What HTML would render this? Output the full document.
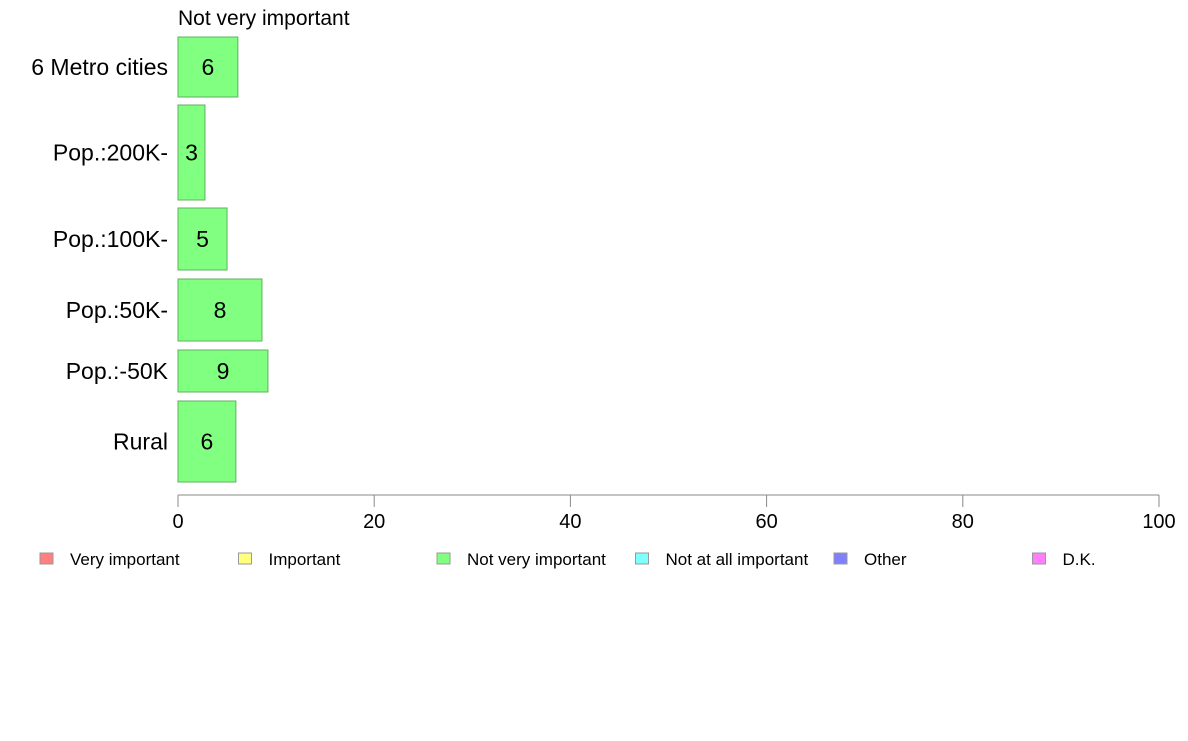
<!DOCTYPE html>
<html><head><meta charset="utf-8"><style>
body{margin:0;background:#fff;font-family:"Liberation Sans",sans-serif}
</style></head><body>
<svg width="1188" height="736" id="c" font-family="Liberation Sans, sans-serif"></svg>
<script>
const categories=["6 Metro cities","Pop.:200K-","Pop.:100K-","Pop.:50K-","Pop.:-50K","Rural"];
const values=[6.1,2.75,5.0,8.56,9.17,5.9];
const labels=["6","3","5","8","9","6"];
const ticks=[0,20,40,60,80,100];
const legendNames=["Very important","Important","Not very important","Not at all important","Other","D.K."];
const legendColors=["#ff8080","#ffff80","#80ff80","#80ffff","#8080ff","#ff80ff"];
const bandTop=[37,105,208,279,350,401], bandBot=[97,200,270,341,392,482];
const NS="http://www.w3.org/2000/svg";
const svg=document.getElementById('c');
const x=v=>178+v*9.81;
function mk(t,a,txt){const e=document.createElementNS(NS,t);for(const k in a)e.setAttribute(k,a[k]);if(txt!==undefined)e.textContent=txt;svg.appendChild(e);return e;}
let t=mk('text',{x:178,y:25,'font-size':21},"Not very important");


categories.forEach((c,i)=>{
  const y0=bandTop[i],y1=bandBot[i];
  const r=mk('rect',{x:x(0),y:y0,width:x(values[i])-x(0),height:y1-y0,fill:'#80ff80',stroke:'#60b060','stroke-width':1});
  
  
  const v=mk('text',{x:(x(0)+x(values[i]))/2,y:(y0+y1)/2+8,'font-size':23,'text-anchor':'middle'},labels[i]);
  
  
  const l=mk('text',{x:168,y:(y0+y1)/2+8,'font-size':23,'text-anchor':'end'},c);
  
  
});
const ax=mk('line',{x1:x(0),x2:x(100),y1:495,y2:495,stroke:'#888'});


ticks.forEach(v=>{
  const tl=mk('line',{x1:x(v),x2:x(v),y1:495,y2:507,stroke:'#888'});
  
  
  const tx=mk('text',{x:x(v),y:528,'font-size':20,'text-anchor':'middle'},String(v));
  
  
});
legendNames.forEach((n,i)=>{
  const lx=40+i*198.5;
  const s=mk('rect',{x:lx,y:553,width:13,height:11,fill:legendColors[i],stroke:'#999'});
  
  
  const tx=mk('text',{x:lx+30,y:565,'font-size':17},n);
  
  
});
</script>
</body></html>
